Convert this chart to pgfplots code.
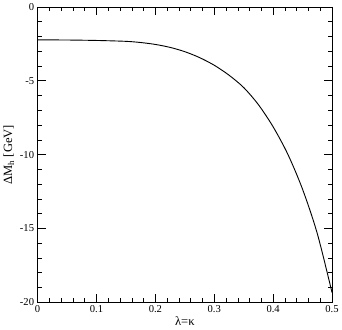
\documentclass[border=0pt]{standalone}
\usepackage{pgfplots}
\pgfplotsset{compat=1.18}
\usepackage{fontspec}
\setmainfont{Liberation Serif}
\begin{document}
\begin{tikzpicture}
\begin{axis}[
    scale only axis,
    width=292pt, height=293pt,
    xmin=0, xmax=0.5, ymin=-20, ymax=0,
    xtick={0,0.1,0.2,0.3,0.4,0.5},
    xticklabels={0,0.1,0.2,0.3,0.4,0.5},
    ytick={-20,-15,-10,-5,0},
    minor x tick num=4,
    minor y tick num=4,
    tick align=inside,
    major tick length=8pt,
    minor tick length=4pt,
    tick style={black, line width=0.6pt},
    axis line style={line width=0.8pt},
    ticklabel style={font=\fontsize{10.5}{12}\selectfont},
    /pgf/number format/assume math mode=true,
    xlabel={λ=κ},
    ylabel={ΔM\textsubscript{h} [GeV]},
    label style={font=\fontsize{12.5}{14}\selectfont},
    xlabel style={yshift=3pt},
    ylabel style={yshift=-1pt},
]
\addplot[black, line width=0.9pt, smooth] coordinates {
    (0.000,-2.23) (0.050,-2.24) (0.100,-2.27) (0.150,-2.33)
    (0.175,-2.41) (0.200,-2.54) (0.225,-2.74) (0.250,-3.03)
    (0.275,-3.43) (0.300,-3.95) (0.325,-4.62) (0.350,-5.46)
    (0.375,-6.62) (0.400,-8.12) (0.425,-9.98) (0.450,-12.35)
    (0.475,-15.35) (0.500,-19.34)
};
\end{axis}
\end{tikzpicture}
\end{document}
